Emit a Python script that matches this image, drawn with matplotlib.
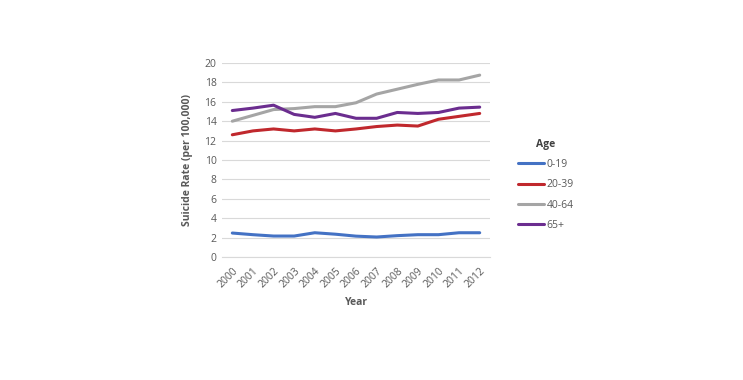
import matplotlib
matplotlib.use("Agg")
import matplotlib.pyplot as plt

years = [str(y) for y in range(2000, 2013)]
age_0_19 = [2.47, 2.3, 2.16, 2.16, 2.5, 2.35, 2.15, 2.06, 2.2, 2.3, 2.3, 2.5, 2.5]
age_20_39 = [12.6, 13.0, 13.2, 13.0, 13.2, 13.0, 13.2, 13.45, 13.6, 13.5, 14.2, 14.5, 14.8]
age_40_64 = [14.0, 14.6, 15.2, 15.3, 15.5, 15.5, 15.9, 16.8, 17.3, 17.8, 18.25, 18.25, 18.75]
age_65p = [15.1, 15.35, 15.65, 14.7, 14.4, 14.8, 14.3, 14.3, 14.9, 14.8, 14.9, 15.35, 15.45]
series_labels = ["0-19", "20-39", "40-64", "65+"]
colors = ["#4472C4", "#C0282D", "#A5A5A5", "#6B2D8F"]

plt.rcParams['font.family'] = ['Open Sans', 'DejaVu Sans']
txt = "#595959"

fig = plt.figure(figsize=(7.43, 3.80), dpi=100)
ax = fig.add_axes([0.2988, 0.3237, 0.3607, 0.5105])

x = list(range(len(years)))
for vals, lab, c in zip([age_0_19, age_20_39, age_40_64, age_65p], series_labels, colors):
    ax.plot(x, vals, color=c, lw=2.2, label=lab, solid_capstyle='round')

ax.set_xlim(-0.5, len(years) - 0.5)
ax.set_ylim(0, 20)
ax.set_yticks(range(0, 21, 2))
ax.set_xticks(x)
ax.set_xticklabels(years, rotation=45, ha='right', rotation_mode='anchor')
ax.tick_params(axis='both', length=0, labelsize=7.5, colors=txt, pad=4)
ax.tick_params(axis='x', pad=6)
ax.grid(axis='y', color='#D9D9D9', lw=0.8)
ax.set_axisbelow(True)
for s in ['top', 'right', 'left']:
    ax.spines[s].set_visible(False)
ax.spines['bottom'].set_color('#D9D9D9')
ax.spines['bottom'].set_linewidth(0.8)

ax.set_ylabel("Suicide Rate (per 100,000)", fontsize=7.5, fontweight='bold', color=txt, labelpad=8)
ax.set_xlabel("Year", fontsize=7.5, fontweight='bold', color=txt, labelpad=5)

leg = fig.legend(loc='upper left', bbox_to_anchor=(0.685, 0.66), frameon=False,
                 title="Age", fontsize=7.5, handlelength=2.5, handletextpad=0.2,
                 labelspacing=0.9, labelcolor=txt)
leg.get_title().set_fontweight('bold')
leg.get_title().set_fontsize(7.5)
leg.get_title().set_color('#404040')

fig.savefig("out.png", dpi=100)
